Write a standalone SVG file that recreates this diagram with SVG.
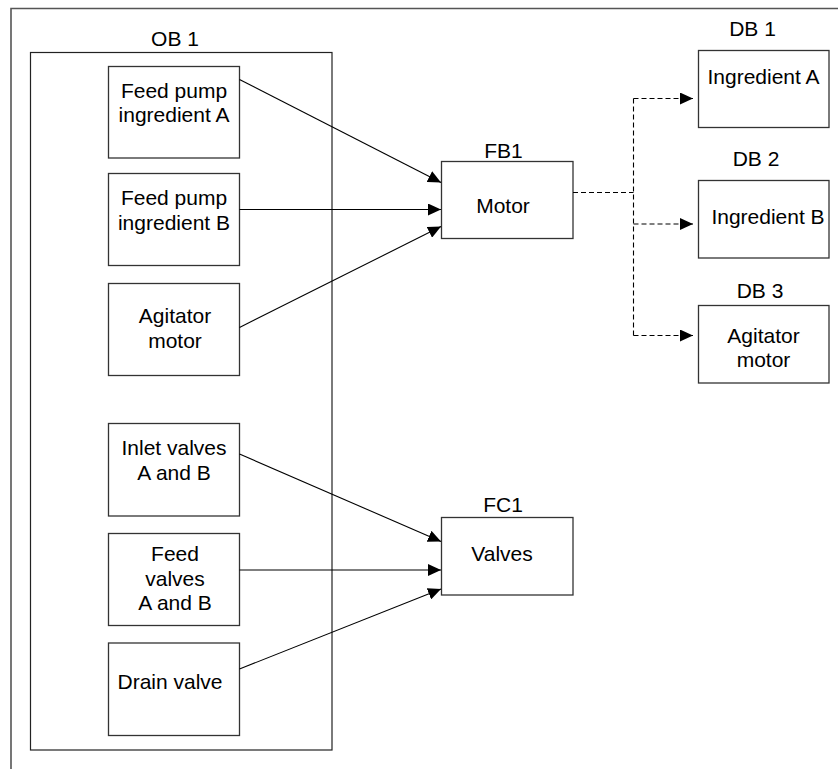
<svg xmlns="http://www.w3.org/2000/svg" width="838" height="769" viewBox="0 0 838 769">
<defs>
<style>
.frame{fill:none;stroke:#555;stroke-width:1.6}
.box{fill:#fff;stroke:#333;stroke-width:1.3}
.grp{fill:none;stroke:#222;stroke-width:1.2}
text{font-family:"Liberation Sans",Arial,sans-serif;font-size:21px;fill:#000;text-anchor:middle}
.conn{stroke:#000;stroke-width:1.1;fill:none}
.dash{stroke:#000;stroke-width:1.1;fill:none;stroke-dasharray:5 3}
</style>
<marker id="arr" viewBox="0 0 13 12" refX="13" refY="6" markerWidth="13" markerHeight="12" markerUnits="userSpaceOnUse" orient="auto">
<path d="M0,0 L13,6 L0,12 Z" fill="#000"/>
</marker>
</defs>
<rect width="838" height="769" fill="#fff"/>
<path class="frame" d="M11,769 V8.5 H838"/>
<g id="OB1">
<rect class="grp" x="30.5" y="52.5" width="301.5" height="697.5"/>
<text x="175" y="45.5">OB 1</text>
</g>
<g id="feedA">
<rect class="box" x="108.5" y="66.5" width="131" height="91.5"/>
<text x="174" y="97.5">Feed pump</text>
<text x="174" y="122">ingredient A</text>
</g>
<g id="feedB">
<rect class="box" x="108.5" y="173.5" width="131" height="92"/>
<text x="174" y="205">Feed pump</text>
<text x="174" y="229.5">ingredient B</text>
</g>
<g id="agitator">
<rect class="box" x="108.5" y="283.5" width="131" height="92"/>
<text x="175" y="323">Agitator</text>
<text x="175" y="347.5">motor</text>
</g>
<g id="inlet">
<rect class="box" x="108.5" y="423.5" width="131" height="92.5"/>
<text x="174" y="455">Inlet valves</text>
<text x="174" y="479.5">A and B</text>
</g>
<g id="feedValves">
<rect class="box" x="108.5" y="533.5" width="131" height="92"/>
<text x="175" y="561">Feed</text>
<text x="175" y="585.5">valves</text>
<text x="175" y="610">A and B</text>
</g>
<g id="drain">
<rect class="box" x="108.5" y="643" width="131" height="92.5"/>
<text x="170" y="689">Drain valve</text>
</g>
<g id="FB1">
<rect class="box" x="441.5" y="161.5" width="131.5" height="77"/>
<text x="503.5" y="157.5">FB1</text>
<text x="503" y="212.5">Motor</text>
</g>
<g id="FC1">
<rect class="box" x="441.5" y="517.5" width="131.5" height="77.5"/>
<text x="503" y="511.5">FC1</text>
<text x="502" y="560.5">Valves</text>
</g>
<g id="DB1">
<rect class="box" x="698.5" y="50.5" width="130.5" height="77"/>
<text x="752.5" y="35.5">DB 1</text>
<text x="763.5" y="83.5">Ingredient A</text>
</g>
<g id="DB2">
<rect class="box" x="698.5" y="180.5" width="130.5" height="77.5"/>
<text x="756" y="165.5">DB 2</text>
<text x="768" y="223.5">Ingredient B</text>
</g>
<g id="DB3">
<rect class="box" x="698.5" y="305.5" width="130.5" height="77.5"/>
<text x="760" y="297.5">DB 3</text>
<text x="763.5" y="342.5">Agitator</text>
<text x="763.5" y="367">motor</text>
</g>
<g id="connectors">
<line class="conn" x1="239.5" y1="79.5" x2="441" y2="182.5" marker-end="url(#arr)"/>
<line class="conn" x1="239.5" y1="209.5" x2="441" y2="209.5" marker-end="url(#arr)"/>
<line class="conn" x1="239.5" y1="327.5" x2="441" y2="226.5" marker-end="url(#arr)"/>
<line class="conn" x1="239.5" y1="454" x2="441" y2="541.5" marker-end="url(#arr)"/>
<line class="conn" x1="239.5" y1="570" x2="441" y2="570" marker-end="url(#arr)"/>
<line class="conn" x1="239.5" y1="669" x2="441" y2="589" marker-end="url(#arr)"/>
<path class="dash" d="M573,192.5 H633.5"/>
<path class="dash" d="M633.5,98.5 V335.5"/>
<path class="dash" d="M633.5,98.5 H693" marker-end="url(#arr)"/>
<path class="dash" d="M633.5,224 H693" marker-end="url(#arr)"/>
<path class="dash" d="M633.5,335.5 H693" marker-end="url(#arr)"/>
</g>
</svg>
